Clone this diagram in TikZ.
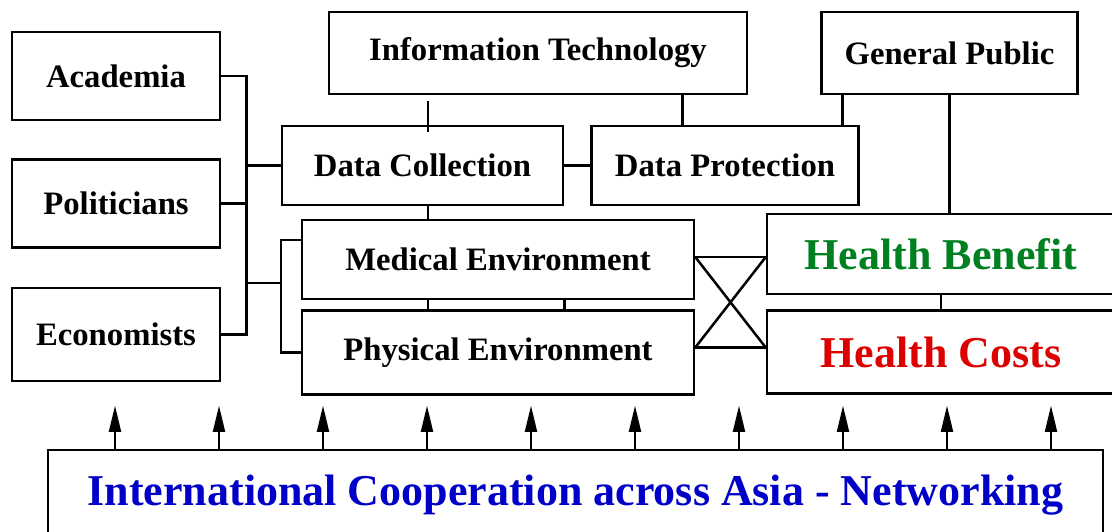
\documentclass[tikz,border=0pt]{standalone}
\usepackage{fontspec}
\setmainfont{Liberation Serif}
\usetikzlibrary{positioning, arrows.meta, calc}

\definecolor{benefitgreen}{RGB}{0,128,32}
\definecolor{costred}{RGB}{220,0,0}
\definecolor{netblue}{RGB}{0,0,200}

\begin{document}
\begin{tikzpicture}[
    x=1pt, y=-1pt,
    >={Triangle[length=26pt,width=12pt]},
    line width=2.5pt,
    block/.style={draw, rectangle, inner sep=0pt, fill=white, align=center, font=\fontsize{32.7}{38}\selectfont\bfseries},
    bigblock/.style={block, font=\fontsize{44}{52}\selectfont\bfseries}
]
    \useasboundingbox (0,0) rectangle (1112,531);

    % Left column
    \node[block, minimum width=208pt, minimum height=88pt] (acad) at (116,76) {Academia};
    \node[block, minimum width=208pt, minimum height=88pt, below=37pt of acad] (pol) {Politicians};
    \node[block, minimum width=208pt, minimum height=93pt, below=38pt of pol] (econ) {Economists};

    % Top row
    \node[block, minimum width=418pt, minimum height=82pt] (it) at (538,53) {Information Technology};
    \node[block, minimum width=256pt, minimum height=82pt, right=72pt of it] (gp) {General Public};

    % Data
    \node[block, minimum width=281pt, minimum height=79pt] (dc) at (422.5,165.5) {Data Collection};
    \node[block, minimum width=267pt, minimum height=79pt, right=26pt of dc] (dp) {Data Protection};

    % Environment
    \node[block, minimum width=392pt, minimum height=79pt] (med) at (498,259.5) {Medical Environment};
    \node[block, minimum width=392pt, minimum height=84pt, below=9pt of med] (phy) {Physical Environment};

    % Health
    \node[bigblock, minimum width=348pt, minimum height=80pt, text=benefitgreen] (hb) at (941,254) {Health Benefit};
    \node[bigblock, minimum width=348pt, minimum height=83pt, below=14pt of hb, text=costred] (hc) {Health Costs};

    % Bottom
    \node[bigblock, minimum width=1055pt, minimum height=90pt, text=netblue] (icn) at (575.5,495) {International Cooperation across Asia - Networking};

    % Left tree
    \draw (acad.east) -- ++(25,0) coordinate (bt) |- (econ.east);
    \draw (pol.east) -- (pol.east -| bt);
    \draw (bt |- dc.west) -- (dc.west);
    \coordinate (eb) at (282,283);
    \draw (bt |- eb) -- (eb);
    \draw ([yshift=19.5pt]med.west) -- ++(-20,0) |- (phy.west);

    % Vertical links
    \draw[shorten <=-7pt, shorten >=6pt] ([xshift=5.5pt]dc.north) -- ([xshift=5.5pt]dc.north |- it.south);
    \draw ([xshift=5.5pt]dc.south) -- ([xshift=5.5pt]dc.south |- med.north);
    \draw ([xshift=5.5pt]dc.south |- med.south) -- ([xshift=5.5pt]dc.south |- phy.north);
    \draw (dc.east |- med.south) -- (dc.east |- phy.north);
    \draw (dc.east) -- (dc.east -| dp.west);
    \draw ([xshift=-42.5pt]dp.north) -- ([xshift=-42.5pt]dp.north |- it.south);
    \draw ([xshift=117.5pt]dp.north) -- ([xshift=117.5pt]dp.north |- gp.south);
    \draw (gp.south) -- (gp.south |- hb.north);
    \draw (hb.south) -- (hb.south |- hc.north);

    % Cross
    \coordinate (xa) at ([yshift=2.5pt]med.east);
    \coordinate (xc) at ([yshift=5pt]phy.east);
    \draw (xa) -- (xa -| hb.west) (xc) -- (xc -| hc.west);
    \draw (xa) -- (xc -| hc.west) (xc) -- (xa -| hb.west);

    % Arrows
    \foreach \x in {115,219,...,1051}
        \draw[->, line width=1.8pt] (icn.north -| \x,0) -- ++(0,-43);

\end{tikzpicture}
\end{document}
